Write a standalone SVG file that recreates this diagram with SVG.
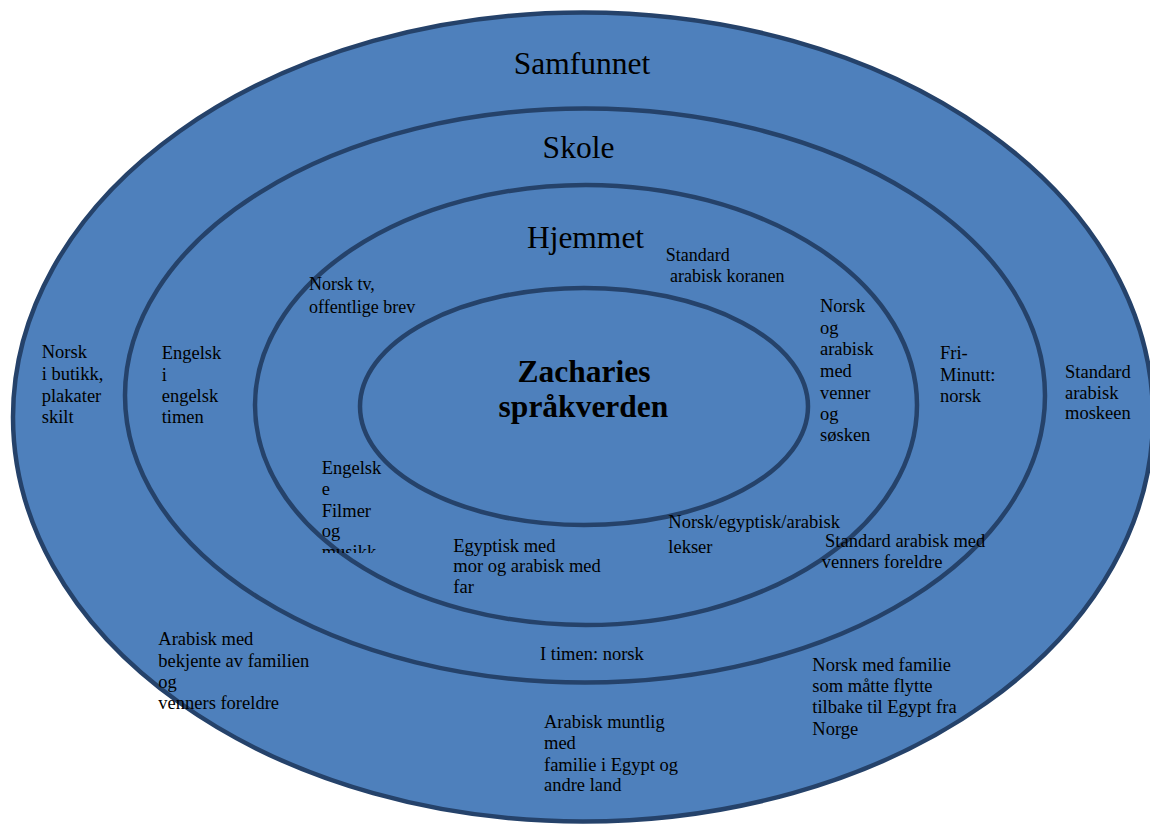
<svg xmlns="http://www.w3.org/2000/svg" width="1150" height="828" viewBox="0 0 1150 828">
<style>
.ring{fill:#4e80bc;stroke:#25426a;stroke-width:4.5}
.t{font-family:"Liberation Serif","Times New Roman",serif;fill:#000}
.title{font-size:31.5px;text-anchor:middle}
.center{font-size:31.5px;font-weight:bold;text-anchor:middle}
.s{font-size:18.5px}
.m{font-size:18px}
</style>
<defs>
<clipPath id="clipFilm"><rect x="300" y="450" width="120" height="103"/></clipPath>
</defs>
<rect width="1150" height="828" fill="#fff"/>
<g id="samfunnet">
<ellipse class="ring" cx="583" cy="417" rx="570" ry="404.5"/>
<text class="t title" x="582" y="74">Samfunnet</text>
</g>
<g id="skole">
<ellipse class="ring" cx="585" cy="395.5" rx="460" ry="287"/>
<text class="t title" x="578.5" y="158">Skole</text>
</g>
<g id="hjemmet">
<ellipse class="ring" cx="586" cy="405" rx="331" ry="220"/>
<text class="t title" x="585.5" y="248">Hjemmet</text>
</g>
<g id="zacharie">
<ellipse class="ring" cx="584" cy="406.5" rx="224" ry="118.5"/>
<text class="t center" x="584" y="382">Zacharies</text>
<text class="t center" x="583.5" y="417">språkverden</text>
</g>
<g id="labels-samfunnet">
<text class="t s" x="41.7" y="358">Norsk</text>
<text class="t s" x="41.7" y="380">i butikk,</text>
<text class="t s" x="41.7" y="401.7">plakater</text>
<text class="t s" x="41.7" y="423">skilt</text>
<text class="t s" x="1065" y="377.7">Standard</text>
<text class="t s" x="1065" y="398.5">arabisk</text>
<text class="t s" x="1065" y="419.3">moskeen</text>
<text class="t s" x="158.3" y="645">Arabisk med</text>
<text class="t s" x="158.3" y="666.7">bekjente av familien</text>
<text class="t s" x="158.3" y="687.5">og</text>
<text class="t s" x="158.3" y="709.3">venners foreldre</text>
<text class="t s" x="544" y="728.3">Arabisk muntlig</text>
<text class="t s" x="544" y="748.5">med</text>
<text class="t s" x="544" y="770.7">familie i Egypt og</text>
<text class="t s" x="544" y="791">andre land</text>
<text class="t s" x="812.3" y="671">Norsk med familie</text>
<text class="t s" x="812.3" y="692.3">som måtte flytte</text>
<text class="t s" x="812.3" y="713.3">tilbake til Egypt fra</text>
<text class="t s" x="812.3" y="735">Norge</text>
</g>
<g id="labels-skole">
<text class="t s" x="161.7" y="359.3">Engelsk</text>
<text class="t s" x="161.7" y="381">i</text>
<text class="t s" x="161.7" y="401.7">engelsk</text>
<text class="t s" x="161.7" y="423">timen</text>
<text class="t s" x="940" y="359">Fri-</text>
<text class="t s" x="940" y="380.7">Minutt:</text>
<text class="t s" x="940" y="401.7">norsk</text>
<text class="t s" x="540" y="660">I timen: norsk</text>
<text class="t s" x="825" y="547.3">Standard arabisk med</text>
<text class="t s" x="821.7" y="568.3">venners foreldre</text>
</g>
<g id="labels-hjemmet">
<text class="t m" x="309" y="290">Norsk tv,</text>
<text class="t m" x="309" y="313">offentlige brev</text>
<text class="t m" x="665.7" y="261">Standard</text>
<text class="t m" x="670" y="281.7">arabisk koranen</text>
<text class="t s" x="820" y="312.3">Norsk</text>
<text class="t s" x="820" y="334">og</text>
<text class="t s" x="820" y="355.3">arabisk</text>
<text class="t s" x="820" y="377.3">med</text>
<text class="t s" x="820" y="398.5">venner</text>
<text class="t s" x="820" y="420">og</text>
<text class="t s" x="820" y="441">søsken</text>
<g clip-path="url(#clipFilm)">
<text class="t s" x="321.7" y="474.3">Engelsk</text>
<text class="t s" x="321.7" y="495">e</text>
<text class="t s" x="321.7" y="516.5">Filmer</text>
<text class="t s" x="321.7" y="537">og</text>
<text class="t s" x="321.7" y="558">musikk</text>
</g>
<text class="t s" x="453.3" y="551.7">Egyptisk med</text>
<text class="t s" x="453.3" y="572.3">mor og arabisk med</text>
<text class="t s" x="453.3" y="593.3">far</text>
<text class="t s" x="668.3" y="528.3">Norsk/egyptisk/arabisk</text>
<text class="t s" x="668.3" y="553.3">lekser</text>
</g>
</svg>
